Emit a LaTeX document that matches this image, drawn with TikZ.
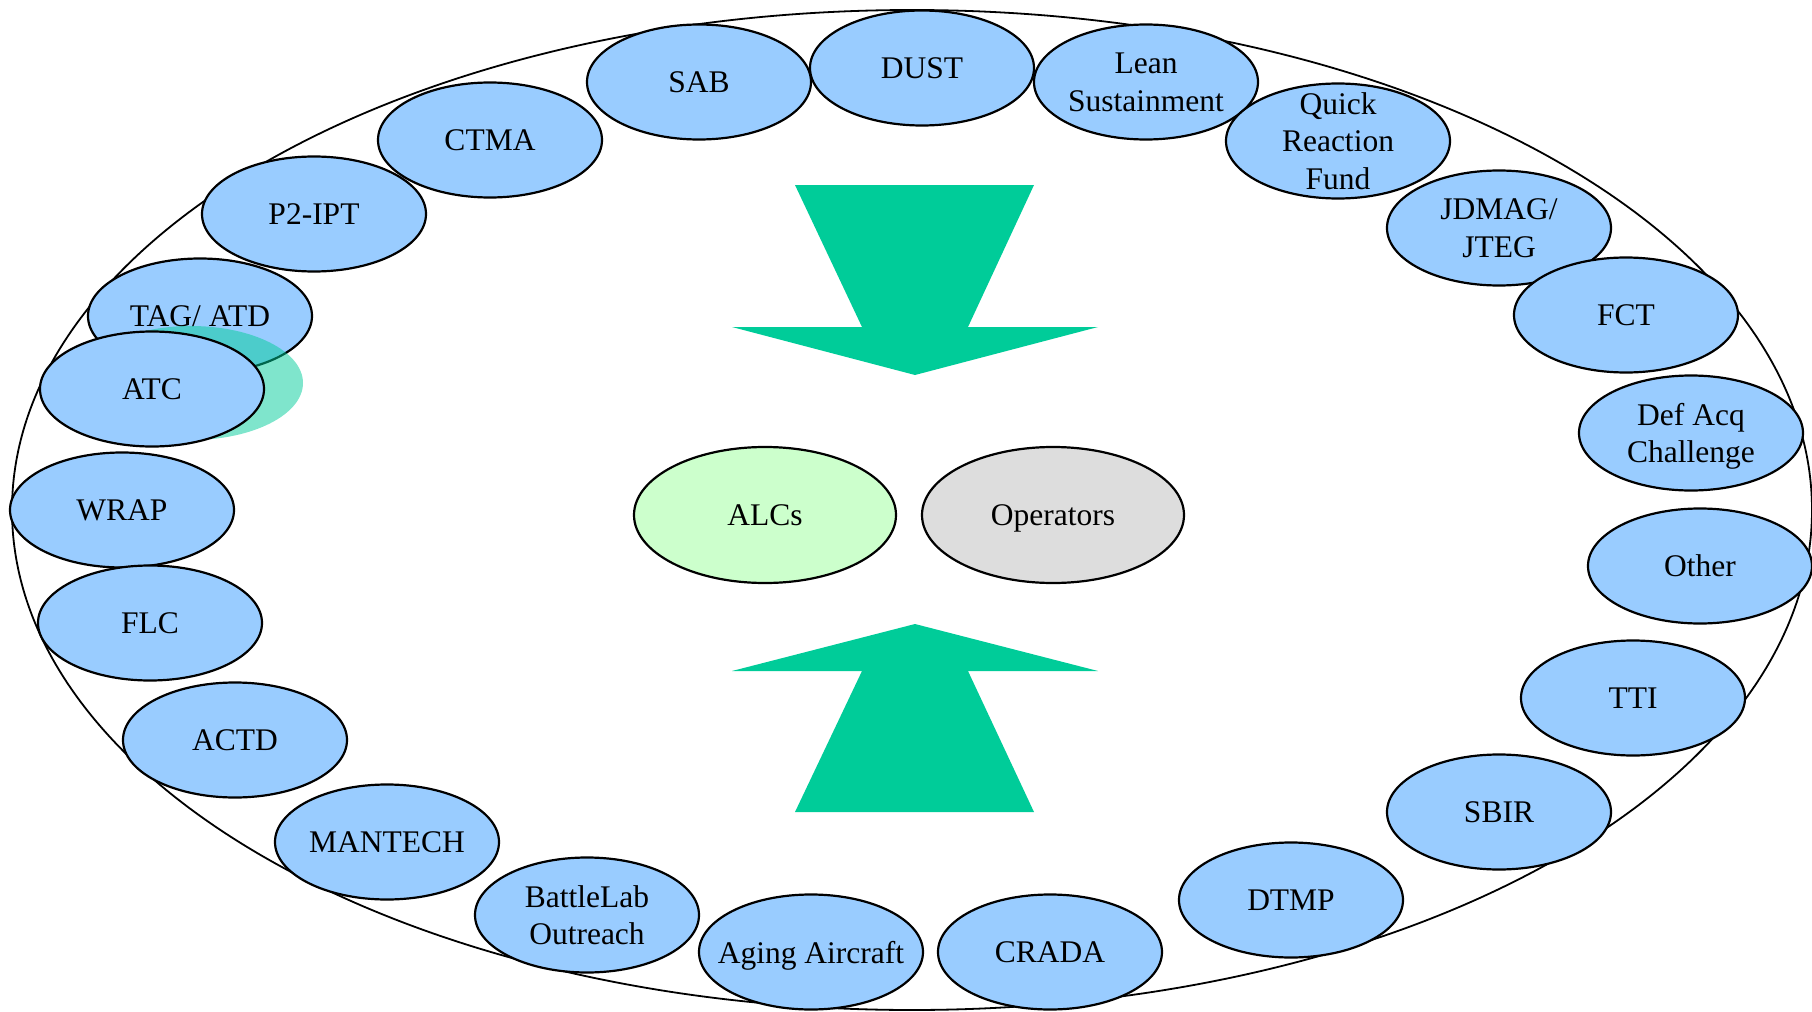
\documentclass[tikz,border=0pt]{standalone}
\usepackage{fontspec}
\setmainfont{Liberation Serif}
\usepackage{tikz}
\usetikzlibrary{shapes.geometric}
\definecolor{progblue}{HTML}{99CCFF}
\definecolor{alcgreen}{HTML}{CCFFCC}
\definecolor{opgray}{HTML}{DDDDDD}
\definecolor{flowgreen}{HTML}{00CC99}
\tikzset{
  prog/.style={ellipse, draw=black, line width=1.1pt, fill=progblue,
    minimum width=112pt, minimum height=57.5pt, inner xsep=-10pt, inner ysep=-6pt,
    text depth=0pt, align=center, font=\fontsize{15.75}{18.75}\selectfont},
  hub/.style={prog, minimum width=131pt, minimum height=68pt}
}

\begin{document}
\begin{tikzpicture}[x=0.5pt, y=-0.5pt]
\useasboundingbox (0,0) rectangle (1812,1012);
\draw[line width=0.9pt] (912,510) ellipse [x radius=900, y radius=500];
\fill[flowgreen] (795,185) -- (1034,185) -- (968,327) -- (1098,327) -- (915,375) -- (732,327) -- (862,327) -- cycle;
\fill[flowgreen] (795,812) -- (1034,812) -- (968,671) -- (1098,671) -- (915,624) -- (732,671) -- (862,671) -- cycle;
\node[hub, fill=alcgreen] (alcs) at (765,515) {ALCs};
\node[hub, fill=opgray] (ops) at (1053,515) {Operators};
\node[prog] (tag) at (200,316) {TAG/ ATD};
\fill[flowgreen, opacity=.5] (191,383) ellipse [x radius=112, y radius=57];
\node[prog] (atc) at (152,389) {ATC};
\node[prog] (p2ipt) at (314,214) {P2-IPT};
\node[prog] (ctma) at (490,140) {CTMA};
\node[prog] (sab) at (699,82) {SAB};
\node[prog] (dust) at (922,68) {DUST};
\node[prog] (lean) at (1146,82) {Lean\\Sustainment};
\node[prog] (qrf) at (1338,141) {Quick\\Reaction\\Fund};
\node[prog] (jdmag) at (1499,228) {JDMAG/\\JTEG};
\node[prog] (fct) at (1626,315) {FCT};
\node[prog] (defacq) at (1691,433) {Def Acq\\Challenge};
\node[prog] (other) at (1700,566) {Other};
\node[prog] (tti) at (1633,698) {TTI};
\node[prog] (sbir) at (1499,812) {SBIR};
\node[prog] (dtmp) at (1291,900) {DTMP};
\node[prog] (crada) at (1050,952) {CRADA};
\node[prog] (aging) at (811,952) {Aging Aircraft};
\node[prog] (blab) at (587,915) {BattleLab\\Outreach};
\node[prog] (mantech) at (387,842) {MANTECH};
\node[prog] (actd) at (235,740) {ACTD};
\node[prog] (wrap) at (122,510) {WRAP};
\node[prog] (flc) at (150,623) {FLC};
\end{tikzpicture}
\end{document}
